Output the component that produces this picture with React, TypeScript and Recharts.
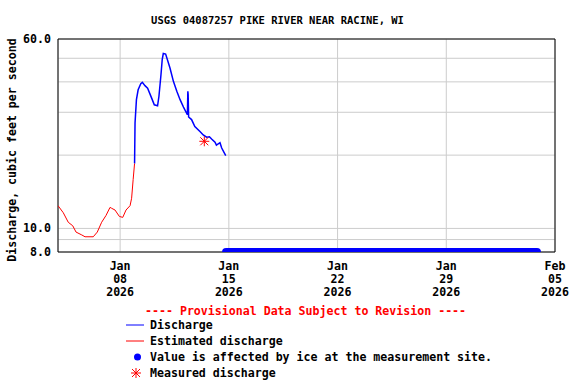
import React from 'react';
import {
  ComposedChart,
  Line,
  Scatter,
  XAxis,
  YAxis,
  CartesianGrid,
  ReferenceArea
} from 'recharts';

// time is in days since Jan 4 2026 00:00
const estimatedTimes = [0, 0.34, 0.66, 0.95, 1.16, 1.53, 1.74, 2.27, 2.53, 2.81, 3.09, 3.35, 3.45, 3.67, 3.95, 4.17, 4.38, 4.64, 4.74, 4.84, 4.93];
const estimatedValues = [12.4, 11.6, 10.6, 10.25, 9.66, 9.4, 9.24, 9.24, 9.66, 10.6, 11.3, 12.2, 12.1, 11.9, 11.2, 11.1, 11.9, 12.4, 13.3, 15.9, 18.5];

const dischargeTimes = [4.93, 4.96, 5.05, 5.16, 5.33, 5.43, 5.6, 5.77, 6.03, 6.2, 6.41, 6.5, 6.63, 6.71, 6.78, 6.93, 7.06, 7.21, 7.43, 7.65, 7.86, 8.08, 8.33, 8.36, 8.38, 8.41, 8.6, 8.81, 9.14, 9.35, 9.57, 9.75, 9.89, 10.11, 10.2, 10.43, 10.54, 10.8];
const dischargeValues = [18.5, 27.1, 33.8, 37.1, 39.3, 39.8, 38.6, 37.7, 34.3, 32.2, 31.9, 34.9, 42.8, 49.4, 52.3, 52.0, 49.0, 45.6, 40.2, 36.6, 33.8, 31.5, 29.3, 36.6, 35.5, 28.7, 28.0, 26.2, 25.0, 24.2, 23.7, 23.8, 23.3, 22.6, 22.0, 22.5, 21.4, 19.9];

// ice-affected period (start, end) drawn at the bottom of the scale
const iceTimes = [10.82, 30.84];
const iceValue = 8;

const measuredTimes = [9.42];
const measuredValues = [22.8];

const xTicks = [4, 11, 18, 25, 32];
const xTickMonths = ['Jan', 'Jan', 'Jan', 'Jan', 'Feb'];
const xTickDays = ['08', '15', '22', '29', '05'];
const xTickYear = '2026';

const yTicks = [8, 9, 10, 20, 30, 40, 50, 60];
const yLabeled = [8, 10, 60];

const estimated = estimatedTimes.map((t, i) => ({ t, v: estimatedValues[i] }));
const discharge = dischargeTimes.map((t, i) => ({ t, v: dischargeValues[i] }));
const ice = iceTimes.map((t) => ({ t, v: iceValue }));
const measured = measuredTimes.map((t, i) => ({ t, v: measuredValues[i] }));

const FONT = '"DejaVu Sans Mono", monospace';

const XTick = ({ x, y, payload }: any) => {
  const i = xTicks.indexOf(payload.value);
  return (
    <g fontFamily={FONT} fontWeight="bold" fontSize={11.6} fill="#000" textAnchor="middle">
      <text x={x} y={y + 14} dy="0.35em">{xTickMonths[i]}</text>
      <text x={x} y={y + 27} dy="0.35em">{xTickDays[i]}</text>
      <text x={x} y={y + 40} dy="0.35em">{xTickYear}</text>
    </g>
  );
};

const YTick = ({ x, y, payload }: any) => {
  if (!yLabeled.includes(payload.value)) return null;
  return (
    <text x={x} y={y} dy="0.35em" textAnchor="end" fontFamily={FONT} fontWeight="bold" fontSize={11.6} fill="#000">
      {payload.value.toFixed(1)}
    </text>
  );
};

const Star = ({ cx, cy }: any) => (
  <g stroke="#ff0000" strokeWidth={1}>
    <line x1={cx - 5} y1={cy} x2={cx + 5} y2={cy} />
    <line x1={cx} y1={cy - 5} x2={cx} y2={cy + 5} />
    <line x1={cx - 4} y1={cy - 4} x2={cx + 4} y2={cy + 4} />
    <line x1={cx - 4} y1={cy + 4} x2={cx + 4} y2={cy - 4} />
  </g>
);

const textStyle: React.CSSProperties = {
  position: 'absolute',
  fontFamily: FONT,
  fontWeight: 'bold',
  fontSize: 11.6,
  lineHeight: '14px',
  whiteSpace: 'nowrap'
};

export default function App() {
  return (
    <div style={{ position: 'absolute', left: 0, top: 0, width: 576, height: 384, background: '#fff' }}>
      <ComposedChart width={576} height={384} margin={{ top: 39, right: 21, bottom: 82, left: 0 }}>
        <CartesianGrid stroke="#cccccc" strokeWidth={1} />
        <XAxis
          dataKey="t"
          type="number"
          domain={[0, 32]}
          ticks={xTicks}
          interval={0}
          allowDataOverflow
          tickLine={false}
          axisLine={false}
          tickSize={0}
          tickMargin={0}
          height={50}
          tick={<XTick />}
        />
        <YAxis
          type="number"
          scale="log"
          domain={[8, 60]}
          ticks={yTicks}
          interval={0}
          allowDataOverflow
          tickLine={false}
          axisLine={false}
          tickSize={0}
          tickMargin={7}
          width={58}
          tick={<YTick />}
        />
        <Line data={ice} dataKey="v" stroke="#0000ff" strokeWidth={8} strokeLinecap="round" dot={false} isAnimationActive={false} />
        <Line data={estimated} dataKey="v" stroke="#ff0000" strokeWidth={1} dot={false} isAnimationActive={false} />
        <Line data={discharge} dataKey="v" stroke="#0000ff" strokeWidth={1.5} dot={false} isAnimationActive={false} />
        <Scatter data={measured} dataKey="v" shape={<Star />} isAnimationActive={false} />
        <ReferenceArea x1={0} x2={32} y1={8} y2={60} fill="none" stroke="#000" strokeWidth={1} fillOpacity={0} />
      </ComposedChart>

      <div style={{ ...textStyle, fontSize: 10.5, left: 0, width: 555, textAlign: 'center', top: 13 }}>
        USGS 04087257 PIKE RIVER NEAR RACINE, WI
      </div>
      <div
        style={{
          ...textStyle,
          left: 12,
          top: 150,
          transform: 'translate(-50%, -50%) rotate(-90deg)'
        }}
      >
        Discharge, cubic feet per second
      </div>

      <div style={{ ...textStyle, color: '#ff0000', left: 145, top: 304 }}>
        ---- Provisional Data Subject to Revision ----
      </div>
      <svg style={{ position: 'absolute', left: 0, top: 0 }} width={576} height={384}>
        <line x1={126} y1={325} x2={144} y2={325} stroke="#0000ff" strokeWidth={1} />
        <line x1={126} y1={341} x2={144} y2={341} stroke="#ff0000" strokeWidth={1} />
        <circle cx={137.5} cy={357} r={3.5} fill="#0000ff" />
        <Star cx={136} cy={373} />
      </svg>
      <div style={{ ...textStyle, left: 150, top: 318 }}>Discharge</div>
      <div style={{ ...textStyle, left: 150, top: 334 }}>Estimated discharge</div>
      <div style={{ ...textStyle, left: 150, top: 350 }}>Value is affected by ice at the measurement site.</div>
      <div style={{ ...textStyle, left: 150, top: 366 }}>Measured discharge</div>
    </div>
  );
}
